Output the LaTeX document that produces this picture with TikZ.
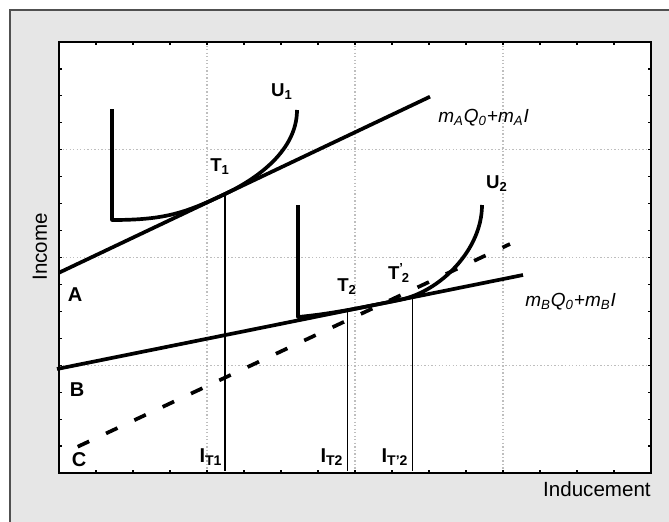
\documentclass[tikz,border=0pt]{standalone}
\usepackage{fontspec}
\setmainfont{Liberation Sans}
\usetikzlibrary{calc}
\definecolor{panel}{HTML}{E6E6E6}
\definecolor{frame}{HTML}{505050}
\definecolor{gridc}{HTML}{BEBEBE}

\begin{document}
\begin{tikzpicture}[x=0.02cm,y=-0.02cm,
    curve/.style={line width=2.1pt,line join=round},
    drop/.style={line width=0.85pt},
    budget/.style={line width=2.1pt,dash pattern=on 7.2pt off 10.6pt},
    gridl/.style={gridc,line width=0.6pt,dash pattern=on 0.8pt off 1.2pt},
    tick/.style={line width=0.7pt},
    pt/.style={font=\fontsize{10.6}{12}\selectfont\bfseries,inner sep=0pt},
    lbl/.style={font=\fontsize{11.4}{13}\selectfont\bfseries,inner sep=0pt},
    eq/.style={font=\fontsize{10.8}{12}\selectfont\itshape,inner sep=0pt,anchor=west},
    axl/.style={font=\fontsize{11.7}{13}\selectfont,inner sep=0pt},
  ]
  \useasboundingbox (0,0) rectangle (669,521);
  \draw[frame,fill=panel,line width=0.85pt] (10,10) rectangle (700,560);
  \fill[white] (59,42) rectangle (651,473);

  % grid and ticks
  \foreach \x in {207,355,503} \draw[gridl] (\x,42) -- (\x,473);
  \foreach \y in {149.75,257.5,365.25} \draw[gridl] (59,\y) -- (651,\y);
  \foreach \i in {1,...,15} {
    \draw[tick] (59+37*\i,42) -- ++(0,3);
    \draw[tick] (59+37*\i,473) -- ++(0,-3);
    \draw[tick] (59,42+26.94*\i) -- ++(3,0);
    \draw[tick] (651,42+26.94*\i) -- ++(-3,0);
  }
  \draw[line width=0.8pt] (59,42) rectangle (651,473);

  \coordinate (A0) at (59,272.7);
  \coordinate (A1) at (430,96.7);
  \coordinate (B0) at (57,369);
  \coordinate (B1) at (523,275);
  \coordinate (C0) at (77.7,446.7);
  \coordinate (C1) at (510,244);
  \coordinate (T1) at (225,194);
  \coordinate (T2) at (347.7,310.4);
  \coordinate (T2p) at (412.7,297.3);
  \coordinate (base) at (0,471);

  % budget lines
  \draw[curve] (A0) -- (A1);
  \draw[curve] (B0) -- (B1);
  \draw[budget] (C0) -- (C1);

  % indifference curves
  \draw[curve] (112,109) -- (112,220) .. controls (165,220) and (185,213) .. (T1)
    .. controls (258,178.3) and (297,150) .. (297,110);
  \draw[curve] (298,205) -- (298,317) .. controls (330,314) and (360,307.9) .. (400,299.8)
    .. controls (440,291.7) and (482,250) .. (482,205);

  \draw[drop] (T1) -- (T1 |- base);
  \draw[drop] (T2) -- (T2 |- base);
  \draw[drop] (T2p) -- (T2p |- base);

  \node[pt] (u1) at (282,92) {U\textsubscript{1}};
  \node[pt] (t1) at (220,167) {T\textsubscript{1}};
  \node[pt] (u2) at (497,184) {U\textsubscript{2}};
  \node[pt] (t2) at (347,287) {T\textsubscript{2}};
  \node[pt] (t2p) at (399,273) {T\textsuperscript{'}\kern-0.12em\textsubscript{2}};

  \node[lbl] (la) at (75,295) {A};
  \node[lbl] (lb) at (77,390) {B};
  \node[lbl] (lc) at (79,460) {C};
  \node[lbl] (it1) at (211,457) {I\textsubscript{T1}};
  \node[lbl] (it2) at (332,457) {I\textsubscript{T2}};
  \node[lbl] (it2p) at (395,457) {I\textsubscript{T'2}};

  \node[eq] (eqa) at (438,118) {m\textsubscript{A}Q\textsubscript{0}+m\textsubscript{A}I};
  \node[eq] (eqb) at (525,302) {m\textsubscript{B}Q\textsubscript{0}+m\textsubscript{B}I};

  \node[axl,rotate=90] (inc) at (40,247) {Income};
  \node[axl,anchor=east] (ind) at (651,489) {Inducement};
\end{tikzpicture}
\end{document}
